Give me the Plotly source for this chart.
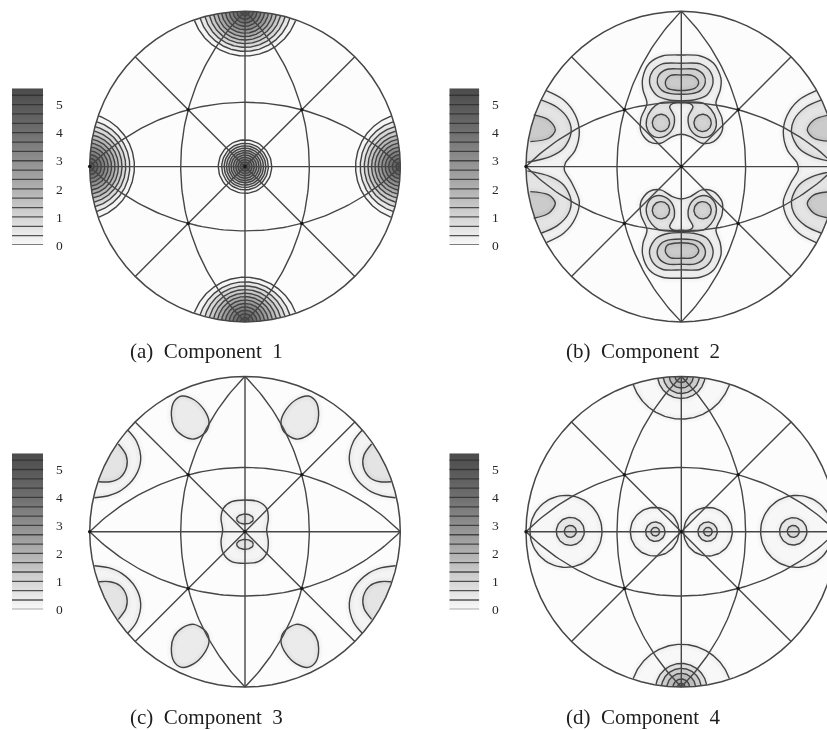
import numpy as np
import plotly.graph_objects as go

W, H = 827, 730
R = 155.3
PANEL_CENTRES = [(245, 166.6), (681.3, 166.6), (245, 531.7), (681.3, 531.7)]
BAR_X = [(12, 43.3), (449.3, 479.3), (12, 43.3), (449.3, 479.3)]
BAR_Y = [(88.3, 245), (88.3, 245), (453.3, 609.3), (453.3, 609.3)]
CAPTIONS = ["(a)\u2002Component\u20021", "(b)\u2002Component\u20022", "(c)\u2002Component\u20023", "(d)\u2002Component\u20024"]
CAPTION_POS = [(206, 351), (643.3, 351), (206, 716.7), (643.3, 716.7)]

# colour bar
BAR_TICKS = [0, 1, 2, 3, 4, 5]
BAR_LEVELS = [0, 1/3, 2/3, 1, 4/3, 5/3, 2, 7/3, 8/3, 3, 10/3, 11/3, 4, 13/3, 14/3, 5, 16/3]
BAR_TOP = 5.58
BAR_SHADE_LEVELS = [0, 0.5, 1, 1.5, 2, 2.5, 3, 3.5, 4, 4.5, 5, 5.58]
BAR_SHADES = [250, 232, 214, 196, 178, 160, 144, 128, 112, 100, 88, 76]

# stereographic net
NET_BULGE = 0.414
NET_NODES_X = [0.366, -0.366, 0.366, -0.366, 0, -1]
NET_NODES_Y = [0.366, 0.366, -0.366, -0.366, 0, 0]
NET_RIM_DIAG = 0.7071

# Component 1: ring distances (unit radius) and levels
A_CENTRE_RADII = [0.172, 0.150, 0.134, 0.119, 0.104, 0.090, 0.075, 0.060, 0.045, 0.030, 0.015]
A_CENTRE_LEVELS = [0.15, 0.55, 1.0, 1.4, 1.85, 2.25, 2.7, 3.1, 3.5, 3.95, 4.4]
A_RIM_DIST = [0.712, 0.742, 0.768, 0.792, 0.815, 0.837, 0.859, 0.881, 0.903, 0.925, 0.948, 0.972]
A_RIM_LEVELS = [0.15, 0.55, 1.0, 1.4, 1.85, 2.25, 2.7, 3.1, 3.5, 3.95, 4.4, 4.8]
A_RIM_ANGLES = [0, 90, 180, 270]

# Component 2: contours read at crop scale, origin (793, 500), 466 crop px = radius
B_ORIGIN = (793, 500)
B_TOP_OUTER = [(793, 165), (850, 168), (890, 190), (912, 235), (910, 270), (897, 310), (915, 355), (915, 395), (890, 425),
               (855, 430), (820, 410), (793, 403), (766, 410), (731, 430), (696, 425), (672, 395), (672, 355), (690, 310),
               (678, 270), (677, 235), (697, 190), (736, 168), (793, 165)]
B_TOP_RING2 = [(793, 190), (850, 192), (880, 215), (888, 250), (870, 285), (830, 300), (793, 302), (756, 300), (718, 285),
               (698, 250), (706, 215), (736, 192), (793, 190)]
B_TOP_RING3 = [(793, 207), (835, 208), (860, 225), (865, 248), (850, 272), (825, 281), (761, 281), (736, 272), (721, 248),
               (726, 225), (751, 208), (793, 207)]
B_TOP_RING4 = [(793, 225), (825, 226), (842, 238), (845, 250), (835, 264), (815, 270), (771, 270), (751, 264), (745, 250),
               (748, 238), (761, 226), (793, 225)]
B_HORSESHOE = [(793, 306), (860, 310), (882, 328), (897, 358), (895, 388), (875, 410), (845, 410), (820, 388), (814, 350),
               (828, 320), (818, 310), (793, 309), (768, 310), (758, 320), (772, 350), (766, 388), (741, 410), (711, 410),
               (691, 388), (689, 358), (704, 328), (726, 310), (793, 306)]
B_LOBE_CIRCLES = [(732, 369, 26), (857, 369, 26)]
B_SIDE_OUTER = [(388, 272), (440, 300), (475, 345), (487, 395), (475, 450), (445, 490), (442, 510), (465, 550), (487, 605),
                (475, 655), (440, 700), (388, 728)]
B_SIDE_RING2 = [(372, 300), (420, 322), (455, 360), (462, 400), (440, 445), (400, 470), (331, 487)]
B_SIDE_RING3 = [(350, 345), (395, 360), (415, 390), (395, 415), (340, 425)]
B_LEVELS = dict(outer=0.22, ring2=0.6, ring3=0.95, ring4=1.3, lobe=1.05)

# Component 3: origin (735, 500)
C_ORIGIN = (735, 500)
C_BLOB = [(545, 93), (582, 104), (612, 134), (627, 170), (618, 200), (582, 222), (548, 212), (522, 185), (514, 150),
          (522, 110), (545, 93)]
C_SIDE_OUTER = [(383, 195), (410, 230), (422, 285), (405, 335), (365, 375), (325, 392), (283, 398)]
C_SIDE_INNER = [(355, 237), (378, 270), (380, 305), (360, 338), (330, 350), (297, 350)]
C_MIDDLE = [(735, 405), (775, 410), (800, 430), (805, 460), (800, 495), (805, 530), (800, 565), (775, 590), (735, 595),
            (695, 590), (670, 565), (663, 530), (668, 495), (663, 460), (670, 430), (695, 410), (735, 405)]
C_OVALS = [(735, 462, 25, 15), (735, 538, 25, 15)]
C_LEVELS = dict(blob=0.42, side_outer=0.18, side_inner=0.62, middle=0.18, oval=0.5)

# Component 4: origin (793, 500); last column is the shaded level
D_ORIGIN = (793, 500)
D_CIRCLES = [(447, 499, 108, 0.08), (460, 499, 42, 0.4), (460, 499, 18, 0.8),
             (713, 500, 73, 0.08), (715, 500, 29, 0.4), (715, 500, 13, 0.8),
             (873, 500, 73, 0.08), (872, 500, 29, 0.4), (873, 500, 13, 0.8),
             (1139, 499, 108, 0.08), (1129, 499, 41, 0.4), (1129, 499, 18, 0.8)]
D_TOP_DIST = [0.725, 0.858, 0.890, 0.925, 0.960]
D_BOTTOM_DIST = [0.725, 0.848, 0.880, 0.912, 0.948, 0.976]
D_RIM_LEVELS = [0.06, 0.5, 1.0, 1.5, 2.0, 2.5]

CROP_SCALE = 466.0
LINE = "rgb(66,66,66)"
NET = "rgb(70,70,70)"
GLOW = "rgba(0,0,0,0.014)"


def shade(level):
    v = float(np.interp(level, BAR_SHADE_LEVELS, BAR_SHADES))
    return f"rgb({v:.0f},{v:.0f},{v:.0f})"


fig = go.Figure()
layout = {}


def add_axes(n, px0, px1, py0, py1, xr, yr, **yextra):
    suffix = "" if n == 1 else str(n)
    layout["xaxis" + suffix] = dict(domain=[px0 / W, px1 / W], range=xr, visible=False, anchor="y" + suffix, fixedrange=True)
    layout["yaxis" + suffix] = dict(domain=[1 - py1 / H, 1 - py0 / H], range=yr, anchor="x" + suffix, fixedrange=True,
                                    **(yextra or dict(visible=False)))
    return ("x" + suffix, "y" + suffix)


def unit(points, origin):
    a = np.array(points, float)
    return (a[:, 0] - origin[0]) / CROP_SCALE, (origin[1] - a[:, 1]) / CROP_SCALE


def rim_arc(x, y):
    a0 = np.arctan2(y[-1], x[-1])
    a1 = np.arctan2(y[0], x[0])
    d = (a1 - a0 + np.pi) % (2 * np.pi) - np.pi
    t = a0 + d * np.linspace(0, 1, 24)
    return np.cos(t), np.sin(t)


def stroke(ax, x, y, spline, glow):
    shape = "spline" if spline else "linear"
    if glow:
        for w in (9, 5):
            fig.add_trace(go.Scatter(x=x, y=y, xaxis=ax[0], yaxis=ax[1], mode="lines",
                                     line=dict(color=GLOW, width=w, shape=shape, smoothing=0.9)))
    fig.add_trace(go.Scatter(x=x, y=y, xaxis=ax[0], yaxis=ax[1], mode="lines",
                             line=dict(color=LINE, width=1.4, shape=shape, smoothing=0.9)))


def closed(ax, x, y, level, spline=True, glow=True):
    fig.add_trace(go.Scatter(x=x, y=y, xaxis=ax[0], yaxis=ax[1], mode="lines", fill="toself", fillcolor=shade(level),
                             line=dict(width=0, shape="spline" if spline else "linear", smoothing=0.9)))
    stroke(ax, x, y, spline, glow)


def open_to_rim(ax, x, y, level, spline=True, glow=True):
    ax_, ay_ = rim_arc(x, y)
    fig.add_trace(go.Scatter(x=np.r_[x, ax_], y=np.r_[y, ay_], xaxis=ax[0], yaxis=ax[1], mode="lines", fill="toself",
                             fillcolor=shade(level), line=dict(width=0)))
    stroke(ax, x, y, spline, glow)


def circle_xy(cx, cy, rx, ry=None):
    ry = rx if ry is None else ry
    t = np.linspace(0, 2 * np.pi, 73)
    return cx + rx * np.cos(t), cy + ry * np.sin(t)


def rim_ring_xy(angle_deg, d):
    a = np.radians(angle_deg)
    c, rho = (d + 1 / d) / 2, (1 / d - d) / 2
    t = np.linspace(-np.pi, np.pi, 361)
    x = c * np.cos(a) + rho * np.cos(t + a + np.pi)
    y = c * np.sin(a) + rho * np.sin(t + a + np.pi)
    keep = x ** 2 + y ** 2 <= 1
    return x[keep], y[keep]


def draw_net(ax):
    rx, ry = circle_xy(0, 0, 1)
    xs, ys = [], []
    rho = (1 + NET_BULGE ** 2) / (2 * NET_BULGE)
    c = rho - NET_BULGE
    half = np.arcsin(1 / rho)
    t = np.linspace(-half, half, 81)
    u, v = rho * np.sin(t), rho * np.cos(t) - c
    for px, py in [(u, v), (u, -v), (v, u), (-v, u)]:
        xs += list(px) + [None]
        ys += list(py) + [None]
    xs += [-1, 1, None, 0, 0, None, -NET_RIM_DIAG, NET_RIM_DIAG, None, -NET_RIM_DIAG, NET_RIM_DIAG]
    ys += [0, 0, None, -1, 1, None, -NET_RIM_DIAG, NET_RIM_DIAG, None, NET_RIM_DIAG, -NET_RIM_DIAG]
    fig.add_trace(go.Scatter(x=xs, y=ys, xaxis=ax[0], yaxis=ax[1], mode="lines", line=dict(color=NET, width=1.4)))
    fig.add_trace(go.Scatter(x=rx, y=ry, xaxis=ax[0], yaxis=ax[1], mode="lines", line=dict(color=NET, width=1.5)))
    fig.add_trace(go.Scatter(x=NET_NODES_X, y=NET_NODES_Y, xaxis=ax[0], yaxis=ax[1], mode="markers",
                             marker=dict(size=3.5, color="rgb(25,25,25)")))


def draw_disc(ax):
    x, y = circle_xy(0, 0, 1)
    fig.add_trace(go.Scatter(x=x, y=y, xaxis=ax[0], yaxis=ax[1], mode="lines", fill="toself",
                             fillcolor="rgb(252,252,252)", line=dict(width=0)))


axes = []
for i, (cx, cy) in enumerate(PANEL_CENTRES):
    pad = 3
    x0, x1 = cx - R - pad, min(cx + R + pad, W)
    y0, y1 = cy - R - pad, cy + R + pad
    axes.append(add_axes(i + 1, x0, x1, y0, y1, [(x0 - cx) / R, (x1 - cx) / R], [(cy - y1) / R, (cy - y0) / R]))

# --- Component 1
ax = axes[0]
draw_disc(ax)
for d, lev in zip(A_RIM_DIST, A_RIM_LEVELS):
    for ang in A_RIM_ANGLES:
        x, y = rim_ring_xy(ang, d)
        open_to_rim(ax, x, y, lev, spline=False, glow=False)
for r, lev in zip(A_CENTRE_RADII, A_CENTRE_LEVELS):
    x, y = circle_xy(0, 0, r)
    closed(ax, x, y, lev, spline=False, glow=False)
draw_net(ax)

# --- Component 2
ax = axes[1]
draw_disc(ax)
for sign in (1, -1):
    pieces = [(B_TOP_OUTER, "outer"), (B_HORSESHOE, "ring2"), (B_TOP_RING2, "ring2"), (B_TOP_RING3, "ring3"),
              (B_TOP_RING4, "ring4")]
    for pts, key in pieces:
        x, y = unit(pts, B_ORIGIN)
        closed(ax, x, sign * y, B_LEVELS[key])
    for (cxx, cyy, r) in B_LOBE_CIRCLES:
        x, y = circle_xy((cxx - B_ORIGIN[0]) / CROP_SCALE, (B_ORIGIN[1] - cyy) / CROP_SCALE, r / CROP_SCALE)
        closed(ax, x, sign * y, B_LEVELS["lobe"], spline=False)
for mirror in (1, -1):
    x, y = unit(B_SIDE_OUTER, B_ORIGIN)
    open_to_rim(ax, mirror * x, y, B_LEVELS["outer"])
    for sign in (1, -1):
        for pts, key in [(B_SIDE_RING2, "ring2"), (B_SIDE_RING3, "ring4")]:
            x, y = unit(pts, B_ORIGIN)
            open_to_rim(ax, mirror * x, sign * y, B_LEVELS[key])
draw_net(ax)

# --- Component 3
ax = axes[2]
draw_disc(ax)
for sx in (1, -1):
    for sy in (1, -1):
        x, y = unit(C_BLOB, C_ORIGIN)
        closed(ax, sx * x, sy * y, C_LEVELS["blob"])
        x, y = unit(C_SIDE_OUTER, C_ORIGIN)
        open_to_rim(ax, sx * x, sy * y, C_LEVELS["side_outer"])
        x, y = unit(C_SIDE_INNER, C_ORIGIN)
        open_to_rim(ax, sx * x, sy * y, C_LEVELS["side_inner"])
x, y = unit(C_MIDDLE, C_ORIGIN)
closed(ax, x, y, C_LEVELS["middle"])
for (ox, oy, rx, ry) in C_OVALS:
    x, y = circle_xy((ox - C_ORIGIN[0]) / CROP_SCALE, (C_ORIGIN[1] - oy) / CROP_SCALE, rx / CROP_SCALE, ry / CROP_SCALE)
    closed(ax, x, y, C_LEVELS["oval"], spline=False)
draw_net(ax)

# --- Component 4
ax = axes[3]
draw_disc(ax)
for ang, dists in [(90, D_TOP_DIST), (270, D_BOTTOM_DIST)]:
    for d, lev in zip(dists, D_RIM_LEVELS):
        x, y = rim_ring_xy(ang, d)
        open_to_rim(ax, x, y, lev, spline=False)
for (ox, oy, r, lev) in D_CIRCLES:
    x, y = circle_xy((ox - D_ORIGIN[0]) / CROP_SCALE, (D_ORIGIN[1] - oy) / CROP_SCALE, r / CROP_SCALE)
    closed(ax, x, y, lev, spline=False)
draw_net(ax)

# --- colour bars
colorscale = [[l / BAR_TOP, shade(l)] for l in BAR_SHADE_LEVELS]
for i in range(4):
    (x0, x1), (y0, y1) = BAR_X[i], BAR_Y[i]
    ax = add_axes(5 + i, x0, x1, y0, y1, [0, 1], [0, BAR_TOP], side="right", showgrid=False, zeroline=False, showline=False,
                  tickmode="array", tickvals=BAR_TICKS, ticktext=[str(t) for t in BAR_TICKS], ticks="outside", ticklen=9,
                  tickcolor="rgba(0,0,0,0)", tickfont=dict(family="Liberation Serif", size=13.5, color="rgb(40,40,40)"))
    fig.add_trace(go.Heatmap(x=[0, 1], y=BAR_SHADE_LEVELS, z=[[l, l] for l in BAR_SHADE_LEVELS], xaxis=ax[0], yaxis=ax[1],
                             colorscale=colorscale, zmin=0, zmax=BAR_TOP, showscale=False, zsmooth="best", hoverinfo="skip"))
    xs, ys = [], []
    for l in BAR_LEVELS:
        xs += [0, 1, None]
        ys += [l, l, None]
    fig.add_trace(go.Scatter(x=xs, y=ys, xaxis=ax[0], yaxis=ax[1], mode="lines", cliponaxis=False,
                             line=dict(color="rgba(45,45,45,0.8)", width=1.3)))

layout["annotations"] = [dict(text=t, x=px / W, y=1 - py / H, xref="paper", yref="paper", showarrow=False, xanchor="center",
                              yanchor="middle", font=dict(family="Liberation Serif", size=21, color="rgb(30,30,30)"))
                         for t, (px, py) in zip(CAPTIONS, CAPTION_POS)]
fig.update_layout(template="none", width=W, height=H, autosize=False, margin=dict(l=0, r=0, t=0, b=0), paper_bgcolor="white",
                  plot_bgcolor="rgba(0,0,0,0)", showlegend=False, hovermode=False, **layout)
fig.write_html("out.html", default_width="827px", default_height="730px",
               post_script="document.body.style.margin='0';document.body.style.overflow='hidden';"
                           "document.querySelector('.plotly-graph-div').style.filter='blur(0.4px)';",
               config=dict(displayModeBar=False, responsive=False))
